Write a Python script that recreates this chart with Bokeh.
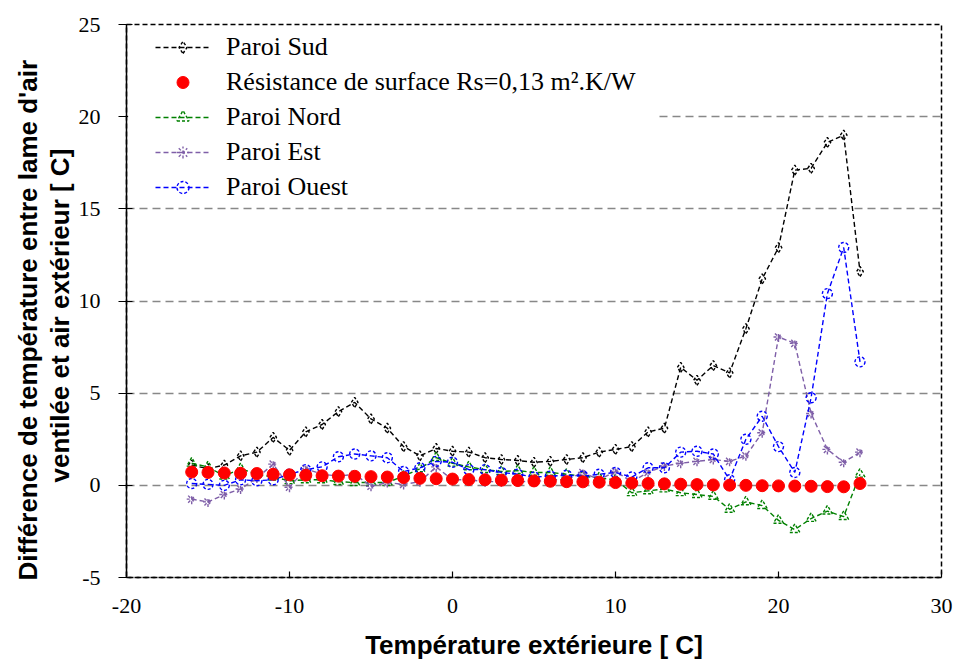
from bokeh.plotting import figure
from bokeh.models import (Legend, LegendItem, FixedTicker, PrintfTickFormatter,
                          Title, BoxAnnotation)
from bokeh.embed import file_html
from bokeh.resources import INLINE

temps = [-16, -15, -14, -13, -12, -11, -10, -9, -8, -7, -6, -5, -4, -3, -2, -1,
         0, 1, 2, 3, 4, 5, 6, 7, 8, 9, 10, 11, 12, 13, 14, 15, 16, 17, 18, 19,
         20, 21, 22, 23, 24, 25]

paroi_sud = [1.1, 0.9, 1.1, 1.6, 1.8, 2.6, 1.9, 2.9, 3.3, 4.0, 4.5, 3.6, 3.1, 2.1,
             1.6, 2.0, 1.85, 1.8, 1.5, 1.4, 1.35, 1.25, 1.3, 1.4, 1.5, 1.8, 1.95,
             2.1, 2.9, 3.1, 6.4, 5.7, 6.5, 6.1, 8.5, 11.2, 12.9, 17.1, 17.2, 18.6,
             19.0, 11.6]

rs_surface = [0.72, 0.7, 0.67, 0.65, 0.64, 0.6, 0.57, 0.55, 0.52, 0.5, 0.49, 0.47,
              0.45, 0.42, 0.38, 0.36, 0.34, 0.31, 0.3, 0.28, 0.26, 0.24, 0.22, 0.2,
              0.19, 0.17, 0.15, 0.12, 0.1, 0.08, 0.06, 0.04, 0.02, 0.01, 0.0, -0.02,
              -0.03, -0.04, -0.05, -0.07, -0.08, 0.1]

paroi_nord = [1.2, 1.0, 0.5, 0.9, 0.6, 0.45, 0.25, 0.3, 0.3, 0.2, 0.15, 0.15, 0.15,
              0.5, 0.9, 1.5, 1.2, 1.0, 0.85, 0.75, 0.8, 0.7, 0.7, 0.6, 0.5, 0.4, 0.3,
              -0.4, -0.3, -0.2, -0.4, -0.5, -0.6, -1.3, -0.9, -1.1, -1.9, -2.4, -1.8,
              -1.4, -1.7, 0.6]

paroi_est = [-0.75, -0.9, -0.5, -0.2, 0.4, 1.15, -0.1, 0.9, 0.6, 0.5, 0.6, -0.05,
             0.15, 0.05, 0.2, 1.0, 0.3, 0.3, 0.2, 0.2, 0.2, 0.2, 0.3, 0.3, 0.7, 0.3,
             0.75, 0.2, 0.7, 1.05, 1.2, 1.3, 1.4, 1.3, 1.6, 2.85, 8.05, 7.7, 3.9,
             1.95, 1.25, 1.8]

paroi_ouest = [0.1, 0.05, 0.0, 0.3, 0.25, 0.3, 0.6, 0.85, 1.0, 1.55, 1.7, 1.6, 1.5,
               0.75, 0.95, 1.3, 1.25, 0.85, 0.85, 0.7, 0.6, 0.45, 0.5, 0.55, 0.5,
               0.6, 0.7, 0.45, 0.95, 0.95, 1.8, 1.85, 1.7, 0.3, 2.5, 3.75, 2.1, 0.7,
               4.75, 10.4, 12.9, 6.7]

x_ticks = [-20, -10, 0, 10, 20, 30]
y_ticks = [-5, 0, 5, 10, 15, 20, 25]

y_title_lines = ["Différence de température entre lame d'air",
                 "ventilée et air extérieur [ C]"]
x_title = "Température extérieure [ C]"

p = figure(width=962, height=662, x_range=(-20, 30), y_range=(-5, 25),
           output_backend="svg", toolbar_location=None,
           min_border_left=126, min_border_right=21, min_border_top=24,
           min_border_bottom=84)
p.background_fill_color = "white"
p.border_fill_color = "white"
p.outline_line_color = "black"
p.outline_line_dash = "5 3"
p.outline_line_width = 1.5

p.xgrid.visible = False
p.ygrid.grid_line_color = "#888888"
p.ygrid.grid_line_dash = "8 5"
p.ygrid.grid_line_width = 1.5

p.xaxis.ticker = FixedTicker(ticks=x_ticks)
p.yaxis.ticker = FixedTicker(ticks=y_ticks)
for ax in (p.xaxis, p.yaxis):
    ax.formatter = PrintfTickFormatter(format="%d")
    ax.major_label_text_font = "Liberation Serif"
    ax.major_label_text_font_size = "22px"
    ax.major_label_text_color = "black"
    ax.axis_line_color = "black"
    ax.axis_line_width = 1.5
    ax.major_tick_line_color = "black"
    ax.major_tick_line_width = 1.2
    ax.minor_tick_line_color = None

p.xaxis.axis_line_dash = "5 3"
p.xaxis.major_tick_in = 6
p.xaxis.major_tick_out = 0
p.xaxis.major_label_standoff = 21
p.xaxis.axis_label = x_title
p.xaxis.axis_label_text_font = "Liberation Sans"
p.xaxis.axis_label_text_font_style = "bold"
p.xaxis.axis_label_text_color = "black"
p.xaxis.axis_label_text_font_size = "26px"
p.xaxis.axis_label_standoff = 14

p.yaxis.major_tick_in = 6
p.yaxis.major_tick_out = 8
p.yaxis.major_label_standoff = 18

# two-line y title: inner line first (closest to the axis), then outer line
for txt, off in [(y_title_lines[1], 95), (y_title_lines[0], -3)]:
    t = Title(text=txt, align="left", offset=off, vertical_align="middle",
              standoff=0, text_font="Liberation Sans", text_font_style="bold",
              text_font_size="26px", text_color="black")
    p.add_layout(t, "left")

series = [
    ("Paroi Sud", paroi_sud, "black", "diamond"),
    ("Paroi Nord", paroi_nord, "#008000", "triangle"),
    ("Paroi Est", paroi_est, "#7F5FA8", "asterisk"),
    ("Paroi Ouest", paroi_ouest, "#0000FF", "circle"),
]

rend = {}
for name, vals, col, mk in series:
    ln = p.line(temps, vals, line_color=col, line_dash="5 3", line_width=1.4)
    sc = p.scatter(temps, vals, marker=mk, size=10, fill_color=None,
                   line_color=col, line_width=1.4, line_dash="3 2")
    rend[name] = [ln, sc]

rs = p.scatter(temps, rs_surface, marker="circle", size=12, fill_color="#FF0000",
               line_color="#FF0000")

# hide the small piece of the 20 gridline left of the legend box
p.add_layout(BoxAnnotation(left=-19.9, right=-18.0, bottom=19.6, top=20.4,
                           fill_color="white", fill_alpha=1.0, line_color=None))

legend = Legend(items=[
    LegendItem(label="Paroi Sud", renderers=rend["Paroi Sud"]),
    LegendItem(label="Résistance de surface Rs=0,13 m².K/W", renderers=[rs]),
    LegendItem(label="Paroi Nord", renderers=rend["Paroi Nord"]),
    LegendItem(label="Paroi Est", renderers=rend["Paroi Est"]),
    LegendItem(label="Paroi Ouest", renderers=rend["Paroi Ouest"]),
], location=(29, 375))
legend.label_text_font = "Liberation Serif"
legend.label_text_font_size = "26px"
legend.label_text_color = "black"
legend.glyph_width = 55
legend.glyph_height = 30
legend.label_height = 30
legend.label_width = 430
legend.label_standoff = 16
legend.spacing = 5
legend.padding = 5
legend.margin = 0
legend.border_line_color = None
legend.background_fill_color = "white"
legend.background_fill_alpha = 1.0
p.add_layout(legend)

open("out.html", "w").write(file_html(p, INLINE))
